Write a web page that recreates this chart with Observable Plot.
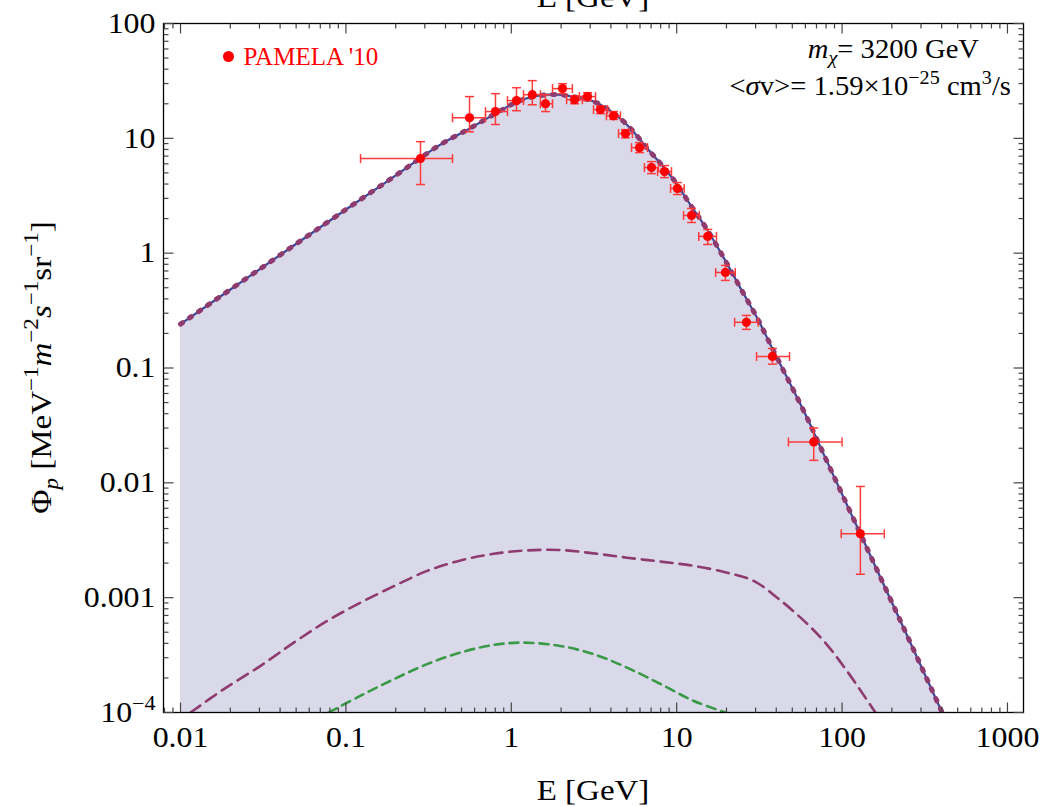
<!DOCTYPE html>
<html><head><meta charset="utf-8">
<script src="https://cdn.jsdelivr.net/npm/d3@7"></script>
<script src="https://cdn.jsdelivr.net/npm/@observablehq/plot@0.6"></script>
<style>body{margin:0;background:#fff}</style>
</head><body><div id="chart"></div>
<script>
// ---- data ----
const curveE    = [0.01, 0.03, 0.1, 0.2, 0.364, 0.561, 0.806, 1.07, 1.34, 1.81, 2.39, 3.15, 4.17, 5.26, 6.63, 7.98, 9.6, 12.1, 15.3, 19.3, 24.3, 30.7, 38.6, 48.8, 61.5, 77.5, 129, 225, 403];
const curveFlux = [0.241, 0.723, 2.40, 4.75, 8.64, 12.2, 16.5, 20.6, 23.0, 24.1, 23.0, 20.9, 16.5, 12.2, 8.19, 6.03, 4.35, 2.64, 1.60, 0.905, 0.496, 0.272, 0.140, 0.0718, 0.0367, 0.0177, 0.0036, 0.00063, 0.0001];

const bgE    = [0.0115, 0.0183, 0.0305, 0.0484, 0.077, 0.1226, 0.195, 0.31, 0.493, 0.784, 1.25, 1.98, 3.15, 5.0, 7.98, 12.7, 20.2, 29.2, 40.5, 56.1, 77.5, 107, 159];
const bgFlux = [1.0e-4, 1.6e-4, 2.55e-4, 4.06e-4, 6.27e-4, 9.05e-4, 1.26e-3, 1.71e-3, 2.11e-3, 2.41e-3, 2.58e-3, 2.60e-3, 2.43e-3, 2.23e-3, 2.06e-3, 1.89e-3, 1.65e-3, 1.40e-3, 1.0e-3, 6.7e-4, 4.2e-4, 2.3e-4, 1.0e-4];

const grE    = [0.0788, 0.1226, 0.195, 0.31, 0.493, 0.784, 1.19, 1.98, 3.15, 5.0, 7.98, 12.7, 19.7];
const grFlux = [1.0e-4, 1.40e-4, 1.95e-4, 2.64e-4, 3.33e-4, 3.88e-4, 4.06e-4, 3.8e-4, 3.22e-4, 2.46e-4, 1.77e-4, 1.26e-4, 1.0e-4];

const pamE    = [0.2825, 0.559, 0.802, 1.075, 1.34, 1.61, 2.04, 2.41, 2.89, 3.46, 4.15, 4.90, 5.96, 7.04, 8.44, 10.1, 12.3, 15.4, 19.7, 26.4, 37.9, 67.4, 129];
const pamFlux = [6.66, 15.1, 17.1, 21.3, 24.0, 20.0, 27.1, 21.7, 23.1, 17.8, 15.7, 11.0, 8.30, 5.56, 5.13, 3.66, 2.13, 1.40, 0.679, 0.25, 0.126, 0.0227, 0.0036];
const pamElo  = [0.1226, 0.441, 0.698, 0.948, 1.185, 1.50, 1.775, 2.16, 2.58, 3.14, 3.76, 4.45, 5.33, 6.38, 7.66, 9.18, 11.0, 13.6, 17.2, 22.4, 30.4, 47.4, 98.8];
const pamEhi  = [0.441, 0.698, 0.948, 1.185, 1.50, 1.775, 2.34, 2.69, 3.23, 3.82, 4.57, 5.40, 6.66, 7.76, 9.30, 11.1, 13.7, 17.4, 22.6, 31.1, 48.1, 100, 180];
const pamFlo  = [3.96, 11.4, 13.2, 17.4, 19.6, 17.1, 24.5, 20.0, 21.3, 16.4, 14.6, 10.1, 7.51, 4.93, 4.55, 3.24, 1.85, 1.19, 0.579, 0.217, 0.108, 0.0157, 0.0016];
const pamFhi  = [9.36, 23.1, 24.5, 27.6, 31.8, 24.0, 29.9, 23.5, 25.0, 19.2, 17.1, 11.9, 9.18, 6.27, 5.79, 4.12, 2.45, 1.61, 0.782, 0.287, 0.148, 0.030, 0.0093];

const xTicks = [0.01, 0.1, 1, 10, 100, 1000];
const xTickLabels = ["0.01", "0.1", "1", "10", "100", "1000"];
const yTicks = [100, 10, 1, 0.1, 0.01, 0.001, 1e-4];
const yTickLabels = ["100", "10", "1", "0.1", "0.01", "0.001", "10^-4"];

const xDomain = [0.00789, 1250];
const yDomain = [1e-4, 100];
const minors = (lo, hi) => {
  const out = [];
  for (let e = -5; e <= 4; e++) for (let m = 2; m <= 9; m++) {
    const v = m * Math.pow(10, e);
    if (v > lo && v < hi) out.push(v);
  }
  return out;
};
const xMinor = minors(...xDomain);
const yMinor = minors(...yDomain);

const curve = curveE.map((E, i) => ({E, F: curveFlux[i]}));
const bg = bgE.map((E, i) => ({E, F: bgFlux[i]}));
const gr = grE.map((E, i) => ({E, F: grFlux[i]}));
const pam = pamE.map((E, i) => ({E, F: pamFlux[i], Elo: pamElo[i], Ehi: pamEhi[i], Flo: pamFlo[i], Fhi: pamFhi[i]}));

// custom symbols: error-bar caps and inward frame ticks
const rad = size => Math.sqrt(size / Math.PI);
const hcap = {draw(ctx, s) { const r = rad(s); ctx.moveTo(-r, 0); ctx.lineTo(r, 0); }};
const vcap = {draw(ctx, s) { const r = rad(s); ctx.moveTo(0, -r); ctx.lineTo(0, r); }};
const tickUp    = {draw(ctx, s) { ctx.moveTo(0, 0); ctx.lineTo(0, -rad(s)); }};
const tickDown  = {draw(ctx, s) { ctx.moveTo(0, 0); ctx.lineTo(0, rad(s)); }};
const tickRight = {draw(ctx, s) { ctx.moveTo(0, 0); ctx.lineTo(rad(s), 0); }};
const tickLeft  = {draw(ctx, s) { ctx.moveTo(0, 0); ctx.lineTo(-rad(s), 0); }};

const W = 1047, H = 807, mL = 163, mR = 24, mT = 23, mB = 95;
const FONT = "Liberation Serif, Times New Roman, serif";
const red = "#ff0000", errRed = "#ff3b3b";
const tickCol = "#444";
const SX = 1.1; // horizontal glyph stretch of the reference's Times face

const xTickMark = (data, atY, sym, len) => Plot.dot(data, {x: d => d, y: () => atY, symbol: sym, r: len, stroke: tickCol, strokeWidth: 1.2, fill: "none"});
const yTickMark = (data, atX, sym, len) => Plot.dot(data, {y: d => d, x: () => atX, symbol: sym, r: len, stroke: tickCol, strokeWidth: 1.2, fill: "none"});

const chart = Plot.plot({
  width: W, height: H,
  marginLeft: mL, marginRight: mR, marginTop: mT, marginBottom: mB,
  style: {fontFamily: FONT, background: "#fff", color: "#000"},
  x: {type: "log", domain: xDomain},
  y: {type: "log", domain: yDomain},
  marks: [
    Plot.areaY(curve, {x: "E", y1: yDomain[0], y2: "F", fill: "#d9d9ea", curve: "catmull-rom"}),
    Plot.line(bg, {x: "E", y: "F", stroke: "#8e3b70", strokeWidth: 2.6, strokeDasharray: "12,7", curve: "catmull-rom", clip: true}),
    Plot.line(gr, {x: "E", y: "F", stroke: "#3a9a48", strokeWidth: 2.6, strokeDasharray: "9,6", curve: "catmull-rom", clip: true}),
    Plot.line(curve, {x: "E", y: "F", stroke: "#3b4899", strokeWidth: 2.2, curve: "catmull-rom", clip: true}),
    Plot.line(curve, {x: "E", y: "F", stroke: "#8e3b70", strokeWidth: 5, strokeDasharray: "2.5,8.5", strokeLinecap: "round", curve: "catmull-rom", clip: true}),
    // error bars
    Plot.ruleX(pam, {x: "E", y1: "Flo", y2: "Fhi", stroke: errRed, strokeWidth: 1.5}),
    Plot.ruleY(pam, {y: "F", x1: "Elo", x2: "Ehi", stroke: errRed, strokeWidth: 1.5}),
    Plot.dot(pam, {x: "E", y: "Flo", symbol: hcap, r: 4.5, stroke: errRed, fill: "none", strokeWidth: 1.5}),
    Plot.dot(pam, {x: "E", y: "Fhi", symbol: hcap, r: 4.5, stroke: errRed, fill: "none", strokeWidth: 1.5}),
    Plot.dot(pam, {x: "Elo", y: "F", symbol: vcap, r: 4.5, stroke: errRed, fill: "none", strokeWidth: 1.5}),
    Plot.dot(pam, {x: "Ehi", y: "F", symbol: vcap, r: 4.5, stroke: errRed, fill: "none", strokeWidth: 1.5}),
    Plot.dot(pam, {x: "E", y: "F", r: 4.6, fill: red}),
    // legend
    Plot.dot([0], {frameAnchor: "top-left", dx: 65, dy: 33, r: 5.5, fill: red}),
    Plot.text(["PAMELA '10"], {frameAnchor: "top-left", dx: 80, dy: 33, lineAnchor: "middle", text: d => d, textAnchor: "start", fill: red, fontSize: 25, fontFamily: FONT}),
    // frame & inward ticks on all four sides
    Plot.frame({stroke: "#000", strokeWidth: 1.3}),
    xTickMark(xTicks, yDomain[0], tickUp, 10),
    xTickMark(xMinor, yDomain[0], tickUp, 5),
    xTickMark(xTicks, yDomain[1], tickDown, 10),
    xTickMark(xMinor, yDomain[1], tickDown, 5),
    yTickMark(yTicks, xDomain[0], tickRight, 10),
    yTickMark(yMinor, xDomain[0], tickRight, 5),
    yTickMark(yTicks, xDomain[1], tickLeft, 10),
    yTickMark(yMinor, xDomain[1], tickLeft, 5),
    // tick labels
    Plot.axisX(xTicks, {anchor: "bottom", tickSize: 0, tickPadding: 14, tickFormat: (d) => xTickLabels[xTicks.indexOf(d)], fontSize: 29, fill: "#000", label: null}),
    Plot.axisY(yTicks, {anchor: "left", tickSize: 0, tickPadding: 8, tickFormat: (d) => yTickLabels[yTicks.indexOf(d)], fontSize: 29, fill: "#000", label: null})
  ]
});

document.getElementById("chart").appendChild(chart);

// ---- rich text (superscripts / subscripts) ----
const svg = d3.select(chart);
const fx0 = mL, fx1 = W - mR, fy0 = mT, fy1 = H - mB;
const cx = (fx0 + fx1) / 2, cy = (fy0 + fy1) / 2;

// parts: {s, up (px raise), size, it}
function rich(t, parts) {
  let base = 0;
  parts.forEach(p => {
    const target = -(p.up || 0);
    const ts = t.append("tspan").text(p.s);
    if (target !== base) ts.attr("dy", target - base);
    base = target;
    if (p.size) ts.attr("font-size", p.size);
    if (p.it) ts.attr("font-style", "italic");
  });
}

// stretch axis tick labels horizontally and fix the 10^-4 label
svg.selectAll('g[aria-label="x-axis tick label"] text, g[aria-label="y-axis tick label"] text').each(function() {
  const el = d3.select(this);
  const tr = el.attr("transform") || "";
  el.attr("transform", tr + ` scale(${SX},1)`);
  if (el.text() === "10^-4") {
    el.text("");
    rich(el, [{s: "10"}, {s: "\u22124", up: 12, size: 20}]);
  }
});

// x label
svg.append("text").attr("transform", `translate(${cx},800) scale(${SX},1)`).attr("text-anchor", "middle")
  .attr("font-family", FONT).attr("font-size", 30).text("E [GeV]");
// cut-off top label
svg.append("text").attr("transform", `translate(${cx},7) scale(${SX},1)`).attr("text-anchor", "middle")
  .attr("font-family", FONT).attr("font-size", 30).text("E [GeV]");

// y label
const yl = svg.append("text").attr("transform", `translate(51,${cy}) rotate(-90) scale(1.1,1)`)
  .attr("text-anchor", "middle").attr("font-family", FONT).attr("font-size", 30);
rich(yl, [
  {s: "\u03A6"}, {s: "p", up: -7, size: 21, it: true},
  {s: " [MeV"}, {s: "\u22121", up: 13, size: 21},
  {s: "m", it: true}, {s: "\u22122", up: 13, size: 21},
  {s: "s", it: true}, {s: "\u22121", up: 13, size: 21},
  {s: "sr"}, {s: "\u22121", up: 13, size: 21},
  {s: "]"}
]);

// annotation top-right
const a1 = svg.append("text").attr("transform", `translate(${fx1 - 44},58) scale(1.06,1)`).attr("text-anchor", "end")
  .attr("font-family", FONT).attr("font-size", 27);
rich(a1, [{s: "m", it: true}, {s: "\u03C7", up: -6, size: 19, it: true}, {s: "= 3200 GeV"}]);

const a2 = svg.append("text").attr("transform", `translate(${fx1 - 12},95) scale(1.06,1)`).attr("text-anchor", "end")
  .attr("font-family", FONT).attr("font-size", 27);
rich(a2, [
  {s: "<"}, {s: "\u03C3", it: true}, {s: "v>= 1.59\u00D710"},
  {s: "\u221225", up: 11, size: 19}, {s: " cm"}, {s: "3", up: 11, size: 19}, {s: "/s"}
]);
</script>
</body></html>
